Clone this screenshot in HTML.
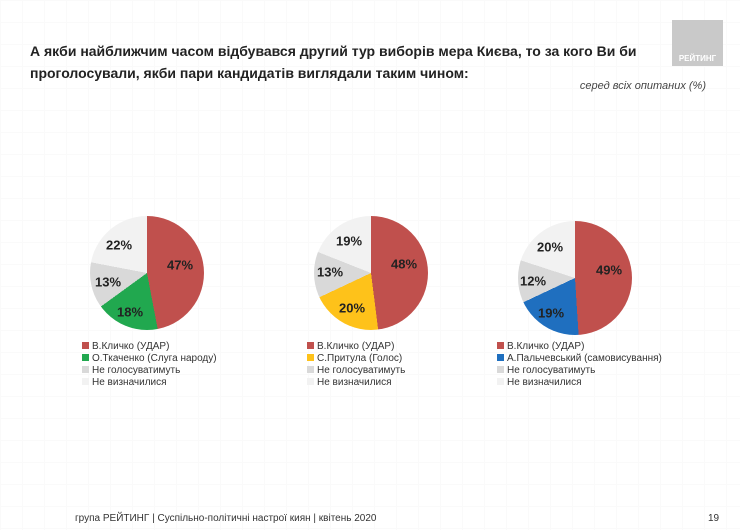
<!DOCTYPE html>
<html><head><meta charset="utf-8"><style>
body{margin:0;width:740px;height:530px;background:#fff;position:relative;overflow:hidden;font-family:"Liberation Sans",sans-serif;color:#222}
.grid{position:absolute;inset:0;background-image:linear-gradient(#f4f4f4 1px,transparent 1px),linear-gradient(90deg,#f4f4f4 1px,transparent 1px);background-size:22px 22px;opacity:.45}
.t{position:absolute;left:30px;top:40px;font-weight:bold;font-size:14px;line-height:22px;white-space:nowrap}
.sub{position:absolute;right:34px;top:80px;font-style:italic;font-size:11px;color:#444}
.logo{position:absolute;left:672px;top:20px;width:51px;height:46px;background:#c9c9c9}
.logo span{position:absolute;bottom:3px;left:0;width:100%;text-align:center;color:#fff;font-weight:bold;font-size:8px}
.pie{position:absolute;width:114px;height:114px;border-radius:50%}
.lb{position:absolute;font-weight:bold;font-size:13px;color:#222;transform:translate(-50%,-50%)}
.lg{position:absolute;font-size:10px;line-height:12px;color:#333}
.lg i{display:inline-block;width:7px;height:7px;margin-right:3px}
.f{position:absolute;left:75px;top:513px;font-size:10px;color:#333}
.n{position:absolute;left:708px;top:513px;font-size:10px;color:#333}
</style></head><body>
<div class="grid"></div>
<div class="t">А якби найближчим часом відбувався другий тур виборів мера Києва, то за кого Ви би<br>проголосували, якби пари кандидатів виглядали таким чином:</div>
<div class="logo"><span>РЕЙТИНГ</span></div>
<div class="sub">серед всіх опитаних (%)</div>

<div class="pie" style="left:90px;top:216px;background:conic-gradient(#c0504d 0 47%,#21a84f 47% 65%,#d9d9d9 65% 78%,#f2f2f2 78% 100%)"></div>
<div class="lb" style="left:180px;top:265px">47%</div>
<div class="lb" style="left:130px;top:312px">18%</div>
<div class="lb" style="left:108px;top:282px">13%</div>
<div class="lb" style="left:119px;top:245px">22%</div>
<div class="lg" style="left:82px;top:341px"><i style="background:#c0504d"></i>В.Кличко (УДАР)<br><i style="background:#21a84f"></i>О.Ткаченко (Слуга народу)<br><i style="background:#d9d9d9"></i>Не голосуватимуть<br><i style="background:#f2f2f2"></i>Не визначилися</div>

<div class="pie" style="left:314px;top:216px;background:conic-gradient(#c0504d 0 48%,#fec21a 48% 68%,#d9d9d9 68% 81%,#f2f2f2 81% 100%)"></div>
<div class="lb" style="left:404px;top:264px">48%</div>
<div class="lb" style="left:352px;top:308px">20%</div>
<div class="lb" style="left:330px;top:272px">13%</div>
<div class="lb" style="left:349px;top:241px">19%</div>
<div class="lg" style="left:307px;top:341px"><i style="background:#c0504d"></i>В.Кличко (УДАР)<br><i style="background:#fec21a"></i>С.Притула (Голос)<br><i style="background:#d9d9d9"></i>Не голосуватимуть<br><i style="background:#f2f2f2"></i>Не визначилися</div>

<div class="pie" style="left:518px;top:221px;background:conic-gradient(#c0504d 0 49%,#1f6fbf 49% 68%,#d9d9d9 68% 80%,#f2f2f2 80% 100%)"></div>
<div class="lb" style="left:609px;top:270px">49%</div>
<div class="lb" style="left:551px;top:313px">19%</div>
<div class="lb" style="left:533px;top:281px">12%</div>
<div class="lb" style="left:550px;top:247px">20%</div>
<div class="lg" style="left:497px;top:341px"><i style="background:#c0504d"></i>В.Кличко (УДАР)<br><i style="background:#1f6fbf"></i>А.Пальчевський (самовисування)<br><i style="background:#d9d9d9"></i>Не голосуватимуть<br><i style="background:#f2f2f2"></i>Не визначилися</div>

<div class="f">група РЕЙТИНГ | Суспільно-політичні настрої киян | квітень 2020</div>
<div class="n">19</div>
</body></html>
